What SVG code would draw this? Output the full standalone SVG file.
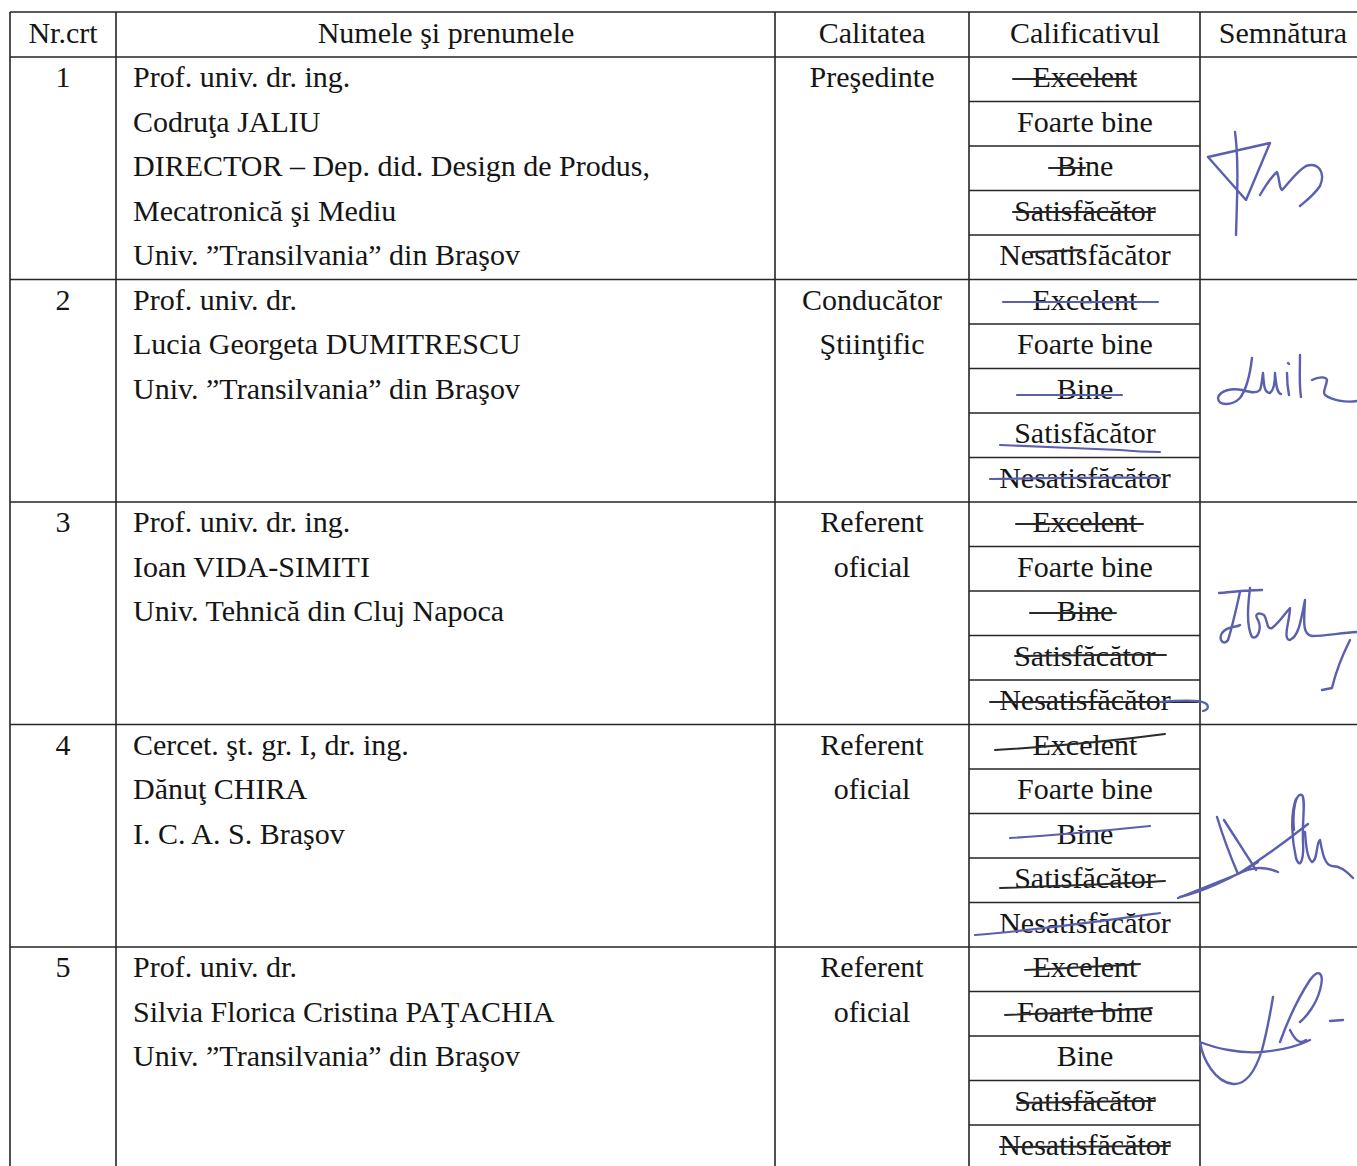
<svg xmlns="http://www.w3.org/2000/svg" width="1357" height="1166" viewBox="0 0 1357 1166">
<style>
text{font-family:"Liberation Serif","Times New Roman",serif;font-size:30px;fill:#151515}
.c{text-anchor:middle}
.g{stroke:#262626;stroke-width:1.6;fill:none}
.s{stroke:#2a2a2a;stroke-width:2;fill:none;stroke-linecap:round}
.b{stroke:#5a5fae;stroke-width:2.2;fill:none;stroke-linecap:round}
.sig{stroke:#5a5fae;stroke-width:2.4;fill:none;stroke-linecap:round;stroke-linejoin:round}
</style>
<rect width="1357" height="1166" fill="#fff"/>
<g id="grid">
<path class="g" d="M10 12H1357M10 57H1357M10 279.5H1357M10 502H1357M10 724.5H1357M10 947H1357"/>
<path class="g" d="M10 12V1166M116 12V1166M775 12V1166M969 12V1166M1200 12V1166"/>
<path class="g" d="M969 101.5H1200M969 146H1200M969 190.5H1200M969 235H1200"/>
<path class="g" d="M969 324H1200M969 368.5H1200M969 413H1200M969 457.5H1200"/>
<path class="g" d="M969 546.5H1200M969 591H1200M969 635.5H1200M969 680H1200"/>
<path class="g" d="M969 769H1200M969 813.5H1200M969 858H1200M969 902.5H1200"/>
<path class="g" d="M969 991.5H1200M969 1036H1200M969 1080.5H1200M969 1125H1200"/>
</g>
<g id="header">
<text class="c" x="63" y="43">Nr.crt</text>
<text class="c" x="446" y="43">Numele şi prenumele</text>
<text class="c" x="872" y="43">Calitatea</text>
<text class="c" x="1085" y="43">Calificativul</text>
<text class="c" x="1283" y="43">Semnătura</text>
</g>
<g id="row1">
<text class="c" x="63" y="87">1</text>
<text x="133" y="87">Prof. univ. dr. ing.</text>
<text x="133" y="131.5">Codruţa JALIU</text>
<text x="133" y="176">DIRECTOR – Dep. did. Design de Produs,</text>
<text x="133" y="220.5">Mecatronică şi Mediu</text>
<text x="133" y="265">Univ. ”Transilvania” din Braşov</text>
<text class="c" x="872" y="87">Preşedinte</text>
<text class="c" x="1085" y="87">Excelent</text>
<text class="c" x="1085" y="131.5">Foarte bine</text>
<text class="c" x="1085" y="176">Bine</text>
<text class="c" x="1085" y="220.5">Satisfăcător</text>
<text class="c" x="1085" y="265">Nesatisfăcător</text>
<path class="s" d="M1013 79H1136M1049 168H1085M1013 212H1155M1032 252L1082 250"/>
<path class="sig" d="M1235 132C1239 160 1237 200 1236 235M1208 157L1270 143L1246 200L1208 157M1260 195C1266 185 1272 176 1277 172C1280 180 1279 188 1282 190C1288 184 1296 172 1306 166C1318 162 1326 172 1320 186C1314 195 1306 201 1300 206"/>
</g>
<g id="row2">
<text class="c" x="63" y="309.5">2</text>
<text x="133" y="309.5">Prof. univ. dr.</text>
<text x="133" y="354">Lucia Georgeta DUMITRESCU</text>
<text x="133" y="398.5">Univ. ”Transilvania” din Braşov</text>
<text class="c" x="872" y="309.5">Conducător</text>
<text class="c" x="872" y="354">Ştiinţific</text>
<text class="c" x="1085" y="309.5">Excelent</text>
<text class="c" x="1085" y="354">Foarte bine</text>
<text class="c" x="1085" y="398.5">Bine</text>
<text class="c" x="1085" y="443">Satisfăcător</text>
<text class="c" x="1085" y="487.5">Nesatisfăcător</text>
<path class="b" d="M1003 302H1158M1017 395H1122M1000 445C1040 447 1080 448 1120 450C1140 452 1152 452 1160 452M990 479C1050 478 1110 477 1160 478"/>
<path class="sig" d="M1252 358C1250 375 1246 390 1240 398C1232 406 1218 406 1218 398C1220 390 1232 388 1242 390C1250 392 1256 394 1260 390C1262 385 1262 378 1263 373C1264 385 1264 393 1270 393C1274 390 1275 380 1275 373C1276 385 1277 393 1281 394M1287 373C1287 382 1288 390 1289 395M1288 363L1289 364M1300 355C1300 370 1299 385 1301 397M1312 380C1318 377 1326 376 1327 380C1326 388 1322 392 1325 395C1332 400 1345 403 1357 401"/>
</g>
<g id="row3">
<text class="c" x="63" y="532">3</text>
<text x="133" y="532">Prof. univ. dr. ing.</text>
<text x="133" y="576.5">Ioan VIDA-SIMITI</text>
<text x="133" y="621">Univ. Tehnică din Cluj Napoca</text>
<text class="c" x="872" y="532">Referent</text>
<text class="c" x="872" y="576.5">oficial</text>
<text class="c" x="1085" y="532">Excelent</text>
<text class="c" x="1085" y="576.5">Foarte bine</text>
<text class="c" x="1085" y="621">Bine</text>
<text class="c" x="1085" y="665.5">Satisfăcător</text>
<text class="c" x="1085" y="710">Nesatisfăcător</text>
<path class="s" d="M1016 524H1143M1030 613H1116M1015 656C1080 655 1130 654 1166 655M990 702H1198"/>
<path class="b" d="M1160 702C1185 700 1200 700 1205 703C1210 706 1208 710 1203 711"/>
<path class="sig" d="M1219 593C1232 592 1248 590 1262 590M1240 592C1236 610 1232 628 1228 640C1224 646 1218 640 1222 633C1228 625 1236 628 1240 625M1250 588C1248 605 1246 625 1252 637C1258 640 1262 628 1258 620C1254 614 1258 612 1264 615C1268 620 1266 630 1272 628C1280 622 1286 612 1290 608C1290 620 1282 640 1290 640C1298 636 1300 626 1305 600C1304 620 1302 635 1312 636C1325 636 1340 633 1357 632M1350 640C1340 660 1335 675 1332 688L1322 690"/>
</g>
<g id="row4">
<text class="c" x="63" y="754.5">4</text>
<text x="133" y="754.5">Cercet. şt. gr. I, dr. ing.</text>
<text x="133" y="799">Dănuţ CHIRA</text>
<text x="133" y="843.5">I. C. A. S. Braşov</text>
<text class="c" x="872" y="754.5">Referent</text>
<text class="c" x="872" y="799">oficial</text>
<text class="c" x="1085" y="754.5">Excelent</text>
<text class="c" x="1085" y="799">Foarte bine</text>
<text class="c" x="1085" y="843.5">Bine</text>
<text class="c" x="1085" y="888">Satisfăcător</text>
<text class="c" x="1085" y="932.5">Nesatisfăcător</text>
<path class="s" d="M995 750C1060 746 1120 740 1165 734M1000 888C1060 886 1120 884 1165 881"/>
<path class="b" d="M1010 838C1060 835 1110 830 1150 826M975 935C1040 930 1110 920 1160 913"/>
<path class="sig" d="M1217 817C1224 840 1232 860 1238 874C1250 868 1262 865 1278 872M1224 820C1240 845 1250 860 1256 870M1178 898C1190 893 1210 885 1238 874C1260 860 1285 842 1308 824M1180 897C1200 892 1230 880 1258 862M1296 799C1290 815 1292 840 1296 858C1300 870 1304 860 1303 842C1302 820 1306 800 1302 795C1296 792 1292 810 1294 830M1305 832C1306 845 1307 858 1312 862C1318 860 1316 842 1320 840C1322 850 1324 865 1332 866C1340 866 1345 870 1353 878"/>
</g>
<g id="row5">
<text class="c" x="63" y="977">5</text>
<text x="133" y="977">Prof. univ. dr.</text>
<text x="133" y="1021.5">Silvia Florica Cristina PAŢACHIA</text>
<text x="133" y="1066">Univ. ”Transilvania” din Braşov</text>
<text class="c" x="872" y="977">Referent</text>
<text class="c" x="872" y="1021.5">oficial</text>
<text class="c" x="1085" y="977">Excelent</text>
<text class="c" x="1085" y="1021.5">Foarte bine</text>
<text class="c" x="1085" y="1066">Bine</text>
<text class="c" x="1085" y="1110.5">Satisfăcător</text>
<text class="c" x="1085" y="1155">Nesatisfăcător</text>
<path class="s" d="M1025 970C1070 968 1110 966 1140 964M1005 1015C1060 1013 1110 1011 1152 1008M1018 1103C1070 1102 1120 1101 1155 1101M1000 1147C1060 1147 1120 1146 1170 1146"/>
<path class="sig" d="M1273 997C1270 1015 1266 1035 1262 1050C1255 1072 1245 1085 1233 1084C1215 1082 1203 1060 1200 1042C1215 1048 1240 1054 1262 1052C1285 1050 1300 1045 1310 1040M1280 1042C1288 1020 1300 995 1310 980C1318 968 1325 972 1320 990C1316 1005 1306 1017 1300 1022M1290 1030C1295 1040 1300 1045 1306 1040M1330 1021L1343 1020"/>
</g>
</svg>
